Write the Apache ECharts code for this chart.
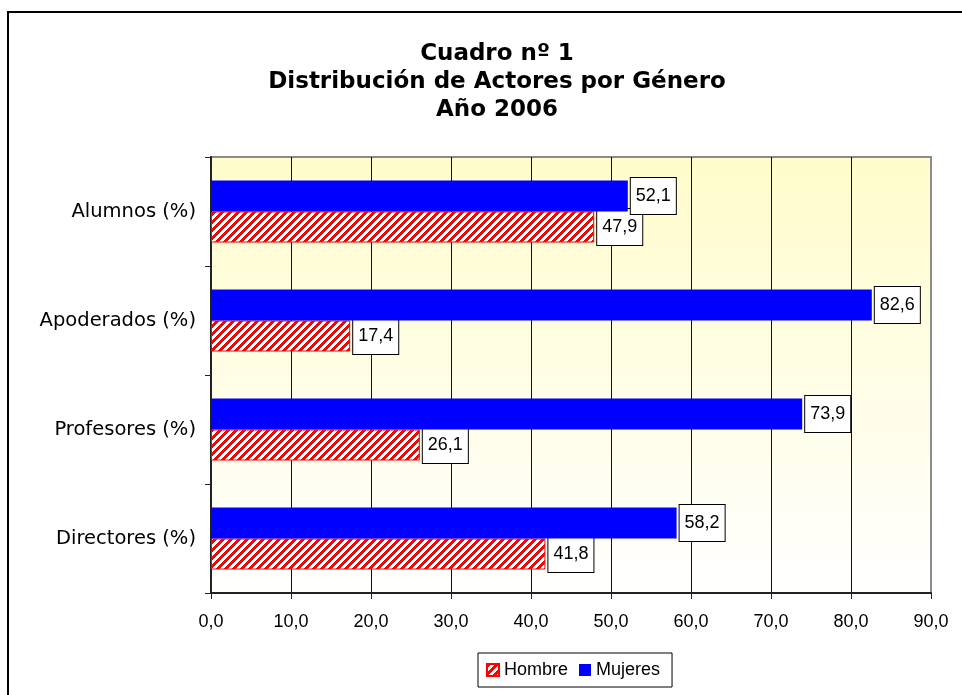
<!DOCTYPE html>
<html>
<head>
    <meta charset="utf-8">
    <title>Cuadro 1</title>
    <script src="https://cdn.jsdelivr.net/npm/echarts@6/dist/echarts.min.js"></script>
    <style>
        html, body { margin: 0; padding: 0; background: #fff; }
    </style>
</head>
<body>
    <div id="main" style="width: 962px;height:695px;"></div>

    <script type="text/javascript">
        var categories = ['Directores (%)', 'Profesores (%)', 'Apoderados (%)', 'Alumnos (%)'];
        var hombre = [41.8, 26.1, 17.4, 47.9];
        var mujeres = [58.2, 73.9, 82.6, 52.1];
        var xTicks = [0, 90, 10]; // min, max, interval

        // red diagonal hatch, drawn pixel by pixel so it stays jaggy like the original
        function hatch() {
            var c = document.createElement('canvas');
            c.width = 8; c.height = 8;
            var ctx = c.getContext('2d');
            var img = ctx.createImageData(8, 8);
            for (var y = 0; y < 8; y++) {
                for (var x = 0; x < 8; x++) {
                    var i = (y * 8 + x) * 4;
                    var red = ((x + y) % 8) < 4;
                    img.data[i] = 255;
                    img.data[i + 1] = red ? 0 : 255;
                    img.data[i + 2] = red ? 0 : 255;
                    img.data[i + 3] = 255;
                }
            }
            ctx.putImageData(img, 0, 0);
            return c;
        }

        function coma(v) {
            return v.toFixed(1).replace('.', ',');
        }

        var myChart = echarts.init(document.getElementById('main'));

        var boxLabel = {
            show: true,
            position: 'right',
            distance: 3,
            color: '#000',
            fontFamily: 'Liberation Sans',
            fontSize: 18,
            lineHeight: 20,
            backgroundColor: '#fff',
            borderColor: '#000',
            borderWidth: 1,
            padding: [8, 5],
            formatter: function (p) { return coma(p.value); }
        };

        var option = {
            animation: false,
            title: {
                text: 'Cuadro nº 1\nDistribución de Actores por Género\nAño 2006',
                left: 492,
                top: 35,
                textAlign: 'center',
                textStyle: {
                    fontFamily: 'DejaVu Sans',
                    fontWeight: 'bold',
                    fontSize: 23,
                    lineHeight: 28,
                    color: '#000'
                }
            },
            graphic: [{
                type: 'rect',
                z: -10,
                shape: { x: 8, y: 12, width: 1000, height: 1000 },
                style: { fill: null, stroke: '#000', lineWidth: 2 }
            }],
            legend: {
                data: ['Hombre', 'Mujeres'],
                left: 478,
                top: 653,
                padding: [8, 12, 8, 8],
                itemGap: 11,
                itemWidth: 12,
                itemHeight: 12,
                icon: 'rect',
                borderColor: '#000',
                borderWidth: 1,
                textStyle: {
                    fontFamily: 'Liberation Sans',
                    fontSize: 18,
                    color: '#000'
                }
            },
            grid: {
                left: 211,
                right: 31,
                top: 157,
                bottom: 102,
                show: true,
                borderColor: '#8c8c8c',
                borderWidth: 2,
                backgroundColor: new echarts.graphic.LinearGradient(0, 0, 0, 1, [
                    { offset: 0, color: '#FFFCCB' },
                    { offset: 1, color: '#FFFFFF' }
                ])
            },
            xAxis: {
                type: 'value',
                min: xTicks[0],
                max: xTicks[1],
                interval: xTicks[2],
                axisLine: { show: true, lineStyle: { color: '#222', width: 2 } },
                axisTick: { show: true, length: 6, lineStyle: { color: '#222' } },
                axisLabel: {
                    margin: 20,
                    color: '#000',
                    fontFamily: 'Liberation Sans',
                    fontSize: 18,
                    formatter: coma
                },
                splitLine: {
                    show: true,
                    showMinLine: false,
                    showMaxLine: false,
                    lineStyle: { color: '#111', width: 1 }
                }
            },
            yAxis: {
                type: 'category',
                data: categories,
                axisLine: { show: true, lineStyle: { color: '#222', width: 2 } },
                axisTick: { show: true, length: 6, lineStyle: { color: '#222' } },
                axisLabel: {
                    margin: 15,
                    color: '#000',
                    fontFamily: 'DejaVu Sans',
                    fontSize: 19.5
                },
                splitLine: { show: false }
            },
            // in a horizontal bar chart the first series sits on top of each band
            series: [{
                name: 'Mujeres',
                type: 'bar',
                data: mujeres,
                barWidth: 31,
                barGap: '0%',
                z: 3,
                itemStyle: { color: '#0000ff' },
                label: boxLabel
            }, {
                name: 'Hombre',
                type: 'bar',
                data: hombre,
                barWidth: 31,
                barGap: '0%',
                z: 2,
                itemStyle: {
                    color: { image: hatch(), repeat: 'repeat' },
                    borderColor: '#ff0000',
                    borderWidth: 1
                },
                label: boxLabel
            }]
        };

        myChart.setOption(option);
    </script>
</body>
</html>
